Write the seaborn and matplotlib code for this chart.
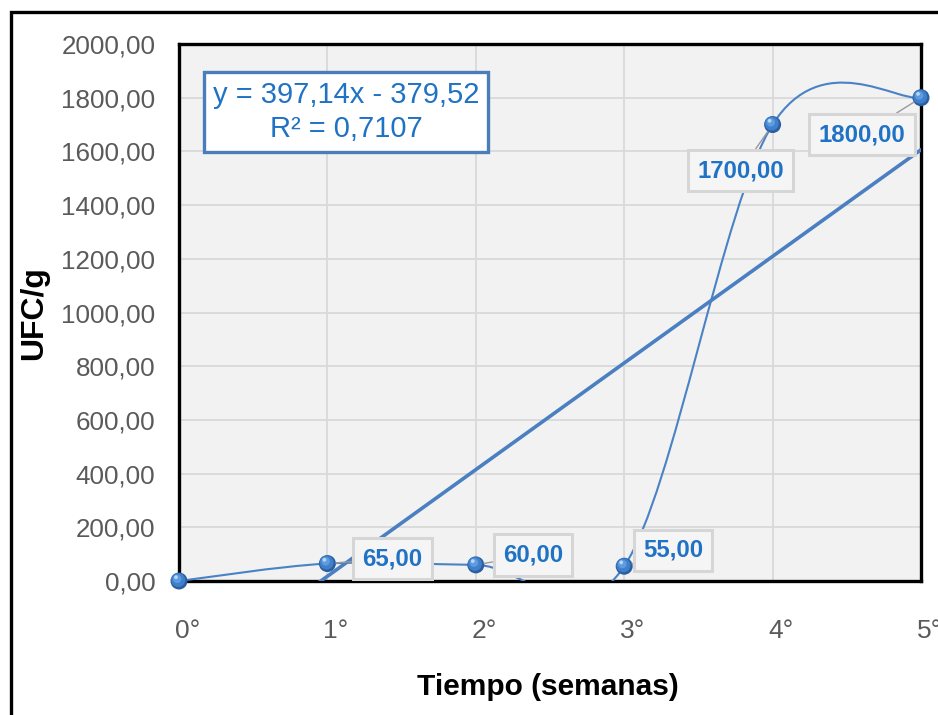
import numpy as np
import pandas as pd
import matplotlib
matplotlib.use("Agg")
import matplotlib.pyplot as plt
import matplotlib.transforms as mtransforms
from matplotlib.path import Path
from matplotlib.patches import PathPatch, Rectangle
import seaborn as sns

# ---- data ----
semanas = [0, 1, 2, 3, 4, 5]
ufc = [0.0, 65.0, 60.0, 55.0, 1700.0, 1800.0]
x_tick_labels = ["0°", "1°", "2°", "3°", "4°", "5°"]
y_ticks = [0, 200, 400, 600, 800, 1000, 1200, 1400, 1600, 1800, 2000]

# label offsets (pixels) relative to each point
label_offsets = [None, (65, 5), (57, 10), (49, 16), (-32, -46), (-59, -37)]

sns.set_style("white")
plt.rcParams["font.family"] = ["Liberation Sans", "DejaVu Sans"]

BLUE_TXT = "#1f72c4"
LINE = "#4a82c6"
TICK_C = "#5a5a5a"

fig = plt.figure(figsize=(9.38, 7.15), dpi=100)
W, H = 938, 715
ax = fig.add_axes([179 / W, 1 - 581 / H, (921 - 179) / W, (581 - 44) / H])
ax.set_facecolor("#f2f2f2")

# smooth connecting line (cubic Bezier segments through the points)
xs = np.array(semanas, dtype=float)
ys = np.array(ufc, dtype=float)
n = len(xs)
verts = [(xs[0], ys[0])]
codes = [Path.MOVETO]
for i in range(n - 1):
    p0 = np.array([xs[max(i - 1, 0)], ys[max(i - 1, 0)]])
    p1 = np.array([xs[i], ys[i]])
    p2 = np.array([xs[i + 1], ys[i + 1]])
    p3 = np.array([xs[min(i + 2, n - 1)], ys[min(i + 2, n - 1)]])
    c1 = p1 + (p2 - p0) / 6.0
    c2 = p2 - (p3 - p1) / 6.0
    verts += [tuple(c1), tuple(c2), tuple(p2)]
    codes += [Path.CURVE4] * 3
ax.add_patch(PathPatch(Path(verts, codes), facecolor="none", edgecolor=LINE,
                       lw=1.5, zorder=3))

# linear trend line
slope, intercept = np.polyfit(xs, ys, 1)
pred = slope * xs + intercept
r2 = 1 - np.sum((ys - pred) ** 2) / np.sum((ys - ys.mean()) ** 2)
trend = pd.DataFrame({"semana": [xs[0], xs[-1]],
                      "ufc": [slope * xs[0] + intercept, slope * xs[-1] + intercept]})
sns.lineplot(data=trend, x="semana", y="ufc", ax=ax, color="#4a7fc2", lw=2.6,
             zorder=4, legend=False)

# shaded sphere markers
layers = [(17, "#2b5e9e", (0, 0)), (14, "#3f7fcc", (-0.8, 1.0)),
          (8.5, "#5e9be0", (-1.8, 2.2)), (3.8, "#b9d6f4", (-3.0, 3.8))]
for size, col, (dx, dy) in layers:
    off = mtransforms.offset_copy(ax.transData, fig=fig, x=dx, y=dy, units="dots")
    ax.scatter(xs, ys, s=(size * 0.72) ** 2, color=col, edgecolors="none",
               transform=off, zorder=6, clip_on=False)

ax.set_xlim(0, 5)
ax.set_ylim(0, 2000)
ax.set_xticks(semanas)
ax.set_yticks(y_ticks)
ax.set_yticklabels([f"{v:.2f}".replace(".", ",") for v in y_ticks],
                   fontsize=18.7, color=TICK_C)
ax.set_xticklabels(x_tick_labels, fontsize=19, color=TICK_C, ha="left")
ax.tick_params(axis="y", length=0, pad=17)
ax.tick_params(axis="x", length=0, pad=27)
shift = mtransforms.ScaledTranslation(-4 / 100, 0, fig.dpi_scale_trans)
for lbl in ax.get_xticklabels():
    lbl.set_transform(lbl.get_transform() + shift)
ax.grid(True, color="#d9d9d9", lw=1.3)
ax.set_axisbelow(True)
for sp in ax.spines.values():
    sp.set_visible(True)
    sp.set_color("black")
    sp.set_linewidth(2.4)
ax.set_xlabel("")
ax.set_ylabel("")

# data labels
for (xv, yv, off) in zip(xs, ys, label_offsets):
    if off is None:
        continue
    ax.annotate(f"{yv:.2f}".replace(".", ","), xy=(xv, yv), xytext=off,
                textcoords="offset pixels", ha="center", va="center",
                fontsize=17.3, fontweight="bold", color=BLUE_TXT, zorder=7,
                bbox=dict(boxstyle="square,pad=0.38", fc="#f5f5f5",
                          ec="#d6d6d6", lw=2.2),
                arrowprops=dict(arrowstyle="-", color="#9a9a9a", lw=1.0,
                                shrinkA=0, shrinkB=6),
                annotation_clip=False)

# regression equation box
eq = (f"y = {slope:.2f}x - {abs(intercept):.2f}".replace(".", ",")
      + "\n" + f"R² = {r2:.4f}".replace(".", ","))
ax.text((346 - 179) / (921 - 179), 1 - (112 - 44) / (581 - 44), eq,
        transform=ax.transAxes, ha="center", va="center", fontsize=21,
        color=BLUE_TXT, linespacing=1.3, zorder=8,
        bbox=dict(boxstyle="square,pad=0.3", fc="white", ec="#4a7ebb", lw=2.4))

# axis titles
fig.text(548 / W, 1 - 687 / H, "Tiempo (semanas)", ha="center", va="center",
         fontsize=21.5, fontweight="bold", color="black")
fig.text(34 / W, 1 - 313 / H, "UFC/g", ha="center", va="center", rotation=90,
         fontsize=23, fontweight="bold", color="black")

# outer chart frame
fig.patches.append(Rectangle((11 / W, -0.1), 1.2, 1.1 - 12 / H,
                             transform=fig.transFigure, fill=False,
                             ec="black", lw=2.4))

fig.savefig("out.png", dpi=100)
